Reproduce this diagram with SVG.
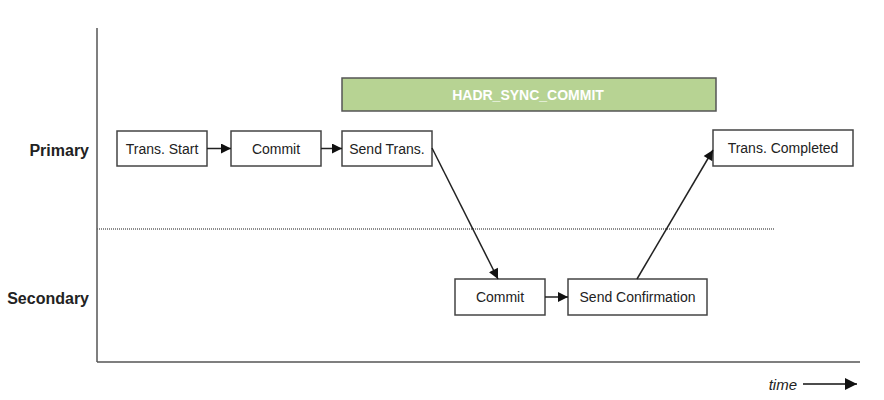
<svg xmlns="http://www.w3.org/2000/svg" width="884" height="400" viewBox="0 0 884 400">
<defs>
<style>
.box{fill:#fff;stroke:#444;stroke-width:1.5}
.t{font-family:"Liberation Sans",Arial,sans-serif;font-size:14px;fill:#222;text-anchor:middle;dominant-baseline:central}
.lane{font-family:"Liberation Sans",Arial,sans-serif;font-size:16px;font-weight:bold;fill:#222;text-anchor:end;dominant-baseline:central}
.c{stroke:#222;stroke-width:1.5;fill:none;marker-end:url(#ah)}
</style>
<marker id="ah" viewBox="0 0 10 10" refX="10" refY="5" markerWidth="11" markerHeight="10" markerUnits="userSpaceOnUse" orient="auto">
<path d="M0,0 L10,5 L0,10 z" fill="#111"/>
</marker>
<marker id="ah2" viewBox="0 0 10 10" refX="10" refY="5" markerWidth="13" markerHeight="12" markerUnits="userSpaceOnUse" orient="auto">
<path d="M0,0 L10,5 L0,10 z" fill="#111"/>
</marker>
</defs>
<g id="axes">
<line x1="97" y1="28" x2="97" y2="362" stroke="#555" stroke-width="1.5"/>
<line x1="97" y1="362" x2="860" y2="362" stroke="#555" stroke-width="1.5"/>
<line x1="97" y1="229" x2="775" y2="229" stroke="#666" stroke-width="1.5" stroke-dasharray="1,1"/>
<text x="89" y="150" class="lane">Primary</text>
<text x="89" y="298" class="lane">Secondary</text>
<text x="797" y="384" font-family="Liberation Sans,Arial,sans-serif" font-size="15" font-style="italic" fill="#222" text-anchor="end" dominant-baseline="central">time</text>
<line x1="803" y1="384" x2="857" y2="384" stroke="#111" stroke-width="1.5" marker-end="url(#ah2)"/>
</g>
<g id="hadr">
<rect x="342" y="78" width="374" height="33" fill="#b7d393" stroke="#555" stroke-width="1.5"/>
<text x="528" y="94.5" font-family="Liberation Sans,Arial,sans-serif" font-size="14" font-weight="bold" fill="#fff" text-anchor="middle" dominant-baseline="central">HADR_SYNC_COMMIT</text>
</g>
<g id="trans-start"><rect class="box" x="117" y="131" width="90" height="35"/><text class="t" x="162" y="148.5">Trans. Start</text></g>
<g id="commit-p"><rect class="box" x="231" y="131" width="90" height="35"/><text class="t" x="276" y="148.5">Commit</text></g>
<g id="send-trans"><rect class="box" x="342" y="131" width="90" height="35"/><text class="t" x="387" y="148.5">Send Trans.</text></g>
<g id="trans-completed"><rect class="box" x="713" y="130" width="140" height="36"/><text class="t" x="783" y="148">Trans. Completed</text></g>
<g id="commit-s"><rect class="box" x="455" y="279" width="90" height="36"/><text class="t" x="500" y="297">Commit</text></g>
<g id="send-confirmation"><rect class="box" x="568" y="279" width="139" height="36"/><text class="t" x="637.5" y="297">Send Confirmation</text></g>
<g id="connectors">
<line class="c" x1="207" y1="148.5" x2="231" y2="148.5"/>
<line class="c" x1="321" y1="148.5" x2="342" y2="148.5"/>
<line class="c" x1="432" y1="148" x2="498" y2="279"/>
<line class="c" x1="545" y1="297" x2="568" y2="297"/>
<line class="c" x1="637" y1="279" x2="713" y2="150"/>
</g>
</svg>
